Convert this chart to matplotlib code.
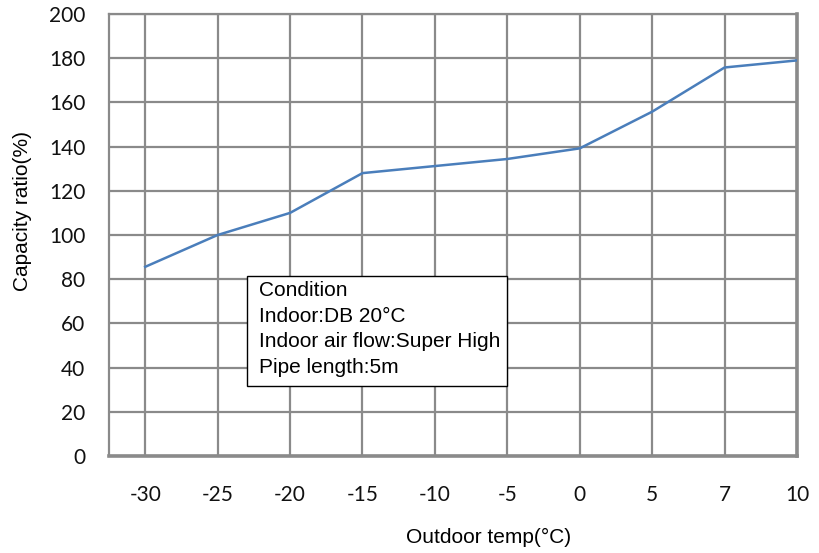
import matplotlib
matplotlib.use("Agg")
import matplotlib.pyplot as plt
from matplotlib.patches import Rectangle

# outdoor temperature categories (evenly spaced on the axis)
temps = ["-30", "-25", "-20", "-15", "-10", "-5", "0", "5", "7", "10"]
capacity = [85.6, 100, 110, 128, 131.2, 134.4, 139.2, 155.8, 175.8, 179]
y_ticks = [0, 20, 40, 60, 80, 100, 120, 140, 160, 180, 200]
note_lines = ["Condition", "Indoor:DB 20°C", "Indoor air flow:Super High",
              "Pipe length:5m"]

W, H = 820, 553
GRID = "#8a8a8a"
LINE = "#4a7ebb"

fig = plt.figure(figsize=(W / 100, H / 100), dpi=100)
ax = fig.add_axes([109 / W, (H - 456) / H, (797 - 109) / W, (456 - 14) / H])

x = list(range(len(temps)))
ax.plot(x, capacity, color=LINE, lw=1.8, zorder=3)

ax.set_xlim(-0.5, len(temps) - 1)
ax.set_ylim(0, 200)
ax.set_xticks(x, temps)
ax.set_yticks(y_ticks)
ax.grid(True, color=GRID, lw=1.6, zorder=1)
ax.set_axisbelow(True)
ax.tick_params(length=0, labelsize=15)
ax.tick_params(axis="x", pad=21)
ax.tick_params(axis="y", pad=17)
for lab in ax.get_xticklabels() + ax.get_yticklabels():
    lab.set_family("Lato")
    lab.set_color("#111111")

for name, sp in ax.spines.items():
    sp.set_color(GRID)
    sp.set_linewidth(2.6 if name in ("bottom", "right") else 1.6)

ax.set_xlabel("Outdoor temp(°C)", family="Liberation Sans", fontsize=15)
ax.xaxis.set_label_coords(0.551, -0.162)
ax.set_ylabel("Capacity ratio(%)", family="Liberation Sans", fontsize=15,
              labelpad=12)
ax.yaxis.label.set_y(0.554)

# condition note box
fig.add_artist(Rectangle((247 / W, (H - 386) / H), 260 / W, 110 / H,
                         transform=fig.transFigure, facecolor="white",
                         edgecolor="black", lw=1.0, zorder=5))
fig.text(259 / W, (H - 329) / H, "\n".join(note_lines), family="Liberation Sans",
         fontsize=15, va="center", ha="left", linespacing=1.45, zorder=6)

fig.savefig("out.png", dpi=100)
